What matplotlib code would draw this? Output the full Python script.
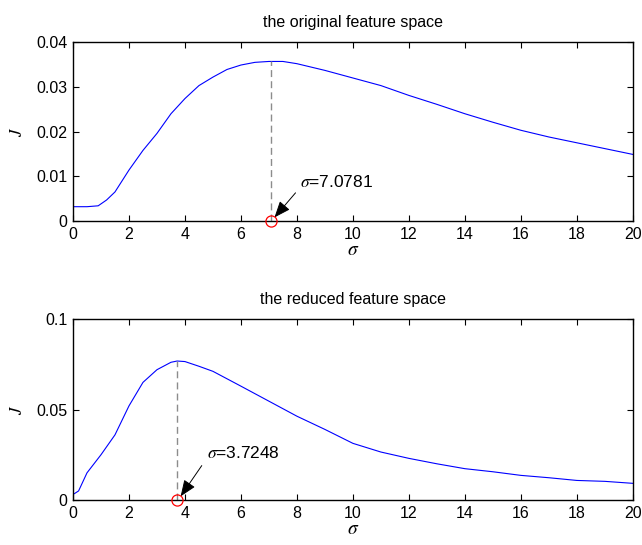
import numpy as np
import matplotlib
matplotlib.use("Agg")
import matplotlib.pyplot as plt

plt.rcParams['font.family'] = ['Liberation Sans', 'DejaVu Sans']
plt.rcParams['mathtext.fontset'] = 'stix'

# original feature space
sigma_top = [0, 0.5, 0.9, 1.2, 1.5, 2, 2.5, 3, 3.5, 4, 4.5, 5, 5.5, 6, 6.5, 7, 7.5, 8,
             9, 10, 11, 12, 13, 14, 15, 16, 17, 18, 19, 20]
J_top = [0.0032, 0.0032, 0.0034, 0.0047, 0.0065, 0.0114, 0.0158, 0.0196, 0.0240, 0.0274,
         0.0303, 0.0322, 0.0339, 0.0349, 0.0355, 0.0357, 0.0357, 0.0352,
         0.0337, 0.0320, 0.0303, 0.0281, 0.0261, 0.0240, 0.0221, 0.0203, 0.0188,
         0.0175, 0.0162, 0.0149]
best_top = 7.0781

# reduced feature space
sigma_bot = [0.05, 0.2, 0.5, 1, 1.5, 2, 2.5, 3, 3.5, 3.72, 4, 4.5, 5, 6, 7, 8,
             9, 10, 11, 12, 13, 14, 15, 16, 17, 18, 19, 20]
J_bot = [0.0035, 0.005, 0.015, 0.025, 0.036, 0.052, 0.065, 0.072, 0.0761, 0.0768, 0.0765,
         0.0739, 0.0711, 0.0629, 0.0546, 0.0463, 0.039, 0.0313, 0.0265, 0.0230, 0.0200,
         0.0173, 0.0156, 0.0136, 0.0123, 0.0108, 0.0103, 0.0092]
best_bot = 3.7248

fig = plt.figure(figsize=(6.42, 5.45), dpi=100)
ax1 = fig.add_axes([0.1137, 0.5945, 0.872, 0.328])
ax2 = fig.add_axes([0.1137, 0.0826, 0.872, 0.332])


def panel(ax, x, y, best, ymax, yticks, ylabels, title, txt_xy, tail_xy):
    ax.plot(x, y, color='#0000ff', lw=0.8)
    peak = np.interp(best, x, y)
    ax.plot([best, best], [0, peak], color='#8c8c8c', lw=1.0, dashes=(5, 3))
    ax.plot([best], [0], 'o', mfc='none', mec='red', ms=8, mew=0.9, clip_on=False, zorder=5)
    ax.annotate('', xy=(best + 0.12, ymax * 0.02), xytext=tail_xy,
                arrowprops=dict(arrowstyle='-|>,head_width=0.4,head_length=1.0',
                                color='black', lw=0.7, shrinkA=0, shrinkB=0))
    ax.text(txt_xy[0], txt_xy[1], r'$\it{\sigma}$=%.4f' % best, fontsize=12.5)
    ax.set_xlim(0, 20)
    ax.set_ylim(0, ymax)
    ax.set_xticks(range(0, 21, 2))
    ax.set_yticks(yticks)
    ax.set_yticklabels(ylabels)
    ax.tick_params(direction='in', top=True, right=True, labelsize=11.5, length=4, pad=4)
    ax.set_xlabel(r'$\it{\sigma}$', fontsize=14, labelpad=0)
    ax.set_ylabel(r'$\it{J}$', fontsize=12, labelpad=8)
    ax.set_title(title, fontsize=11.5, pad=11)
    for s in ax.spines.values():
        s.set_linewidth(1.0)


panel(ax1, sigma_top, J_top, best_top, 0.04,
      [0, 0.01, 0.02, 0.03, 0.04], ['0', '0.01', '0.02', '0.03', '0.04'],
      'the original feature space', (8.1, 0.0075), (7.95, 0.0063))
panel(ax2, sigma_bot, J_bot, best_bot, 0.1,
      [0, 0.05, 0.1], ['0', '0.05', '0.1'],
      'the reduced feature space', (4.8, 0.023), (4.6, 0.019))

fig.savefig('out.png', dpi=100)
